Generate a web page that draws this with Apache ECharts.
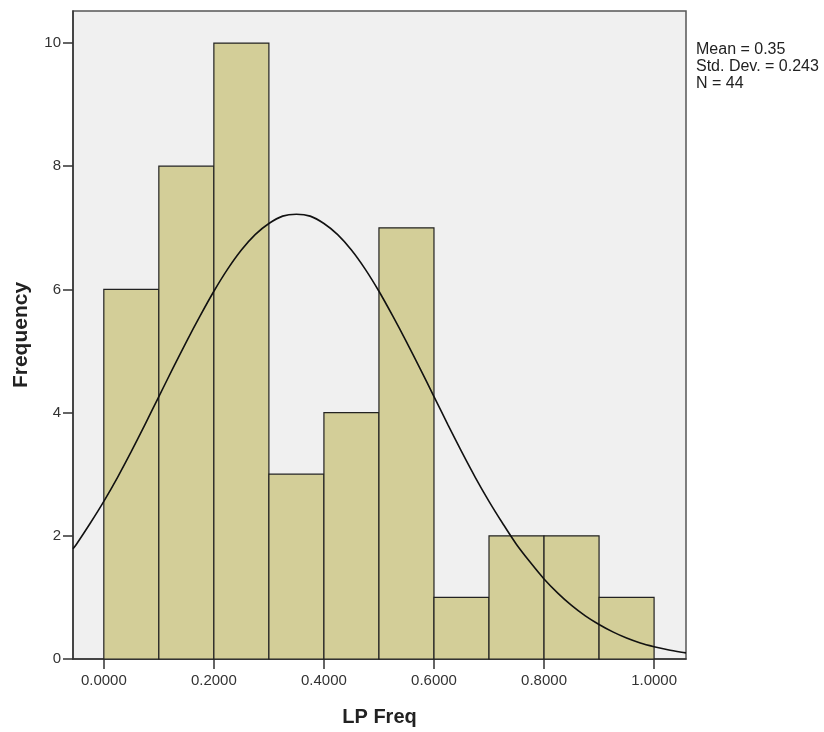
<!DOCTYPE html>
<html><head><meta charset="utf-8">
<script src="https://cdn.jsdelivr.net/npm/echarts@6/dist/echarts.min.js"></script>
<style>html,body{margin:0;padding:0;background:#fff}#c{width:824px;height:732px}</style>
</head><body><div id="c"></div>
<script>
const binStart = [0.0,0.1,0.2,0.3,0.4,0.5,0.6,0.7,0.8,0.9];
const binWidth = 0.1;
const counts = [6,8,10,3,4,7,1,2,2,1];
const curveX = [-0.056,-0.05,-0.025,0.0,0.025,0.05,0.075,0.1,0.125,0.15,0.175,0.2,0.225,0.25,0.275,0.3,0.325,0.35,0.375,0.4,0.425,0.45,0.475,0.5,0.525,0.55,0.575,0.6,0.625,0.65,0.675,0.7,0.725,0.75,0.775,0.8,0.825,0.85,0.875,0.9,0.925,0.95,0.975,1.0,1.025,1.05,1.058];
const curveY = [1.79,1.86,2.20,2.56,2.95,3.37,3.81,4.26,4.71,5.15,5.57,5.97,6.33,6.64,6.89,7.07,7.19,7.22,7.19,7.07,6.89,6.64,6.33,5.97,5.57,5.15,4.71,4.26,3.81,3.37,2.95,2.56,2.20,1.86,1.57,1.30,1.07,0.87,0.70,0.56,0.44,0.34,0.26,0.20,0.15,0.11,0.10];
const xTicks = [0,0.2,0.4,0.6,0.8,1.0];
const yTicks = [0,2,4,6,8,10];
const statsLines = ['Mean = 0.35','Std. Dev. = 0.243','N = 44'];

const chart = echarts.init(document.getElementById('c'), null, {renderer:'canvas'});
const font = 'Liberation Sans, Arial, sans-serif';
chart.setOption({
  animation:false,
  backgroundColor:'#ffffff',
  grid:{left:73,right:138,top:11,bottom:72,show:true,backgroundColor:'#f0f0f0',borderColor:'#555',borderWidth:1.5},
  xAxis:{type:'value',min:-0.056,max:1.058,
    name:'LP Freq',nameLocation:'middle',nameGap:48,
    nameTextStyle:{fontFamily:font,fontSize:20,fontWeight:'bold',color:'#222'},
    axisLine:{show:true,onZero:false,lineStyle:{color:'#333',width:1.5}},
    axisTick:{show:true,length:10,customValues:xTicks,lineStyle:{color:'#333',width:1.5}},
    axisLabel:{customValues:xTicks,formatter:v=>v.toFixed(4),fontFamily:font,fontSize:15,color:'#333',margin:14},
    splitLine:{show:false}},
  yAxis:{type:'value',min:0,max:10.52,
    name:'Frequency',nameLocation:'middle',nameGap:41,nameRotate:90,
    nameTextStyle:{fontFamily:font,fontSize:21,fontWeight:'bold',color:'#222'},
    axisLine:{show:true,onZero:false,lineStyle:{color:'#333',width:1.5}},
    axisTick:{show:true,length:10,customValues:yTicks,lineStyle:{color:'#333',width:1.5}},
    axisLabel:{customValues:yTicks,fontFamily:font,fontSize:15,color:'#333',margin:12},
    splitLine:{show:false}},
  graphic:[{type:'text',left:696,top:41,style:{text:statsLines.join('\n'),font:'16px '+font,fill:'#222',lineHeight:17}}],
  series:[
    {type:'custom',
     data:binStart.map((s,i)=>[s,s+binWidth,counts[i]]),
     renderItem:function(params,api){
       const p0=api.coord([api.value(0),api.value(2)]);
       const p1=api.coord([api.value(1),0]);
       return {type:'rect',shape:{x:p0[0],y:p0[1],width:p1[0]-p0[0],height:p1[1]-p0[1]},
         style:{fill:'#d3ce98',stroke:'#222',lineWidth:1.2}};
     },
     encode:{x:[0,1],y:2},z:2},
    {type:'line',data:curveX.map((x,i)=>[x,curveY[i]]),smooth:0.3,showSymbol:false,
     lineStyle:{color:'#111',width:1.6},z:3,clip:true}
  ]
});
</script></body></html>
